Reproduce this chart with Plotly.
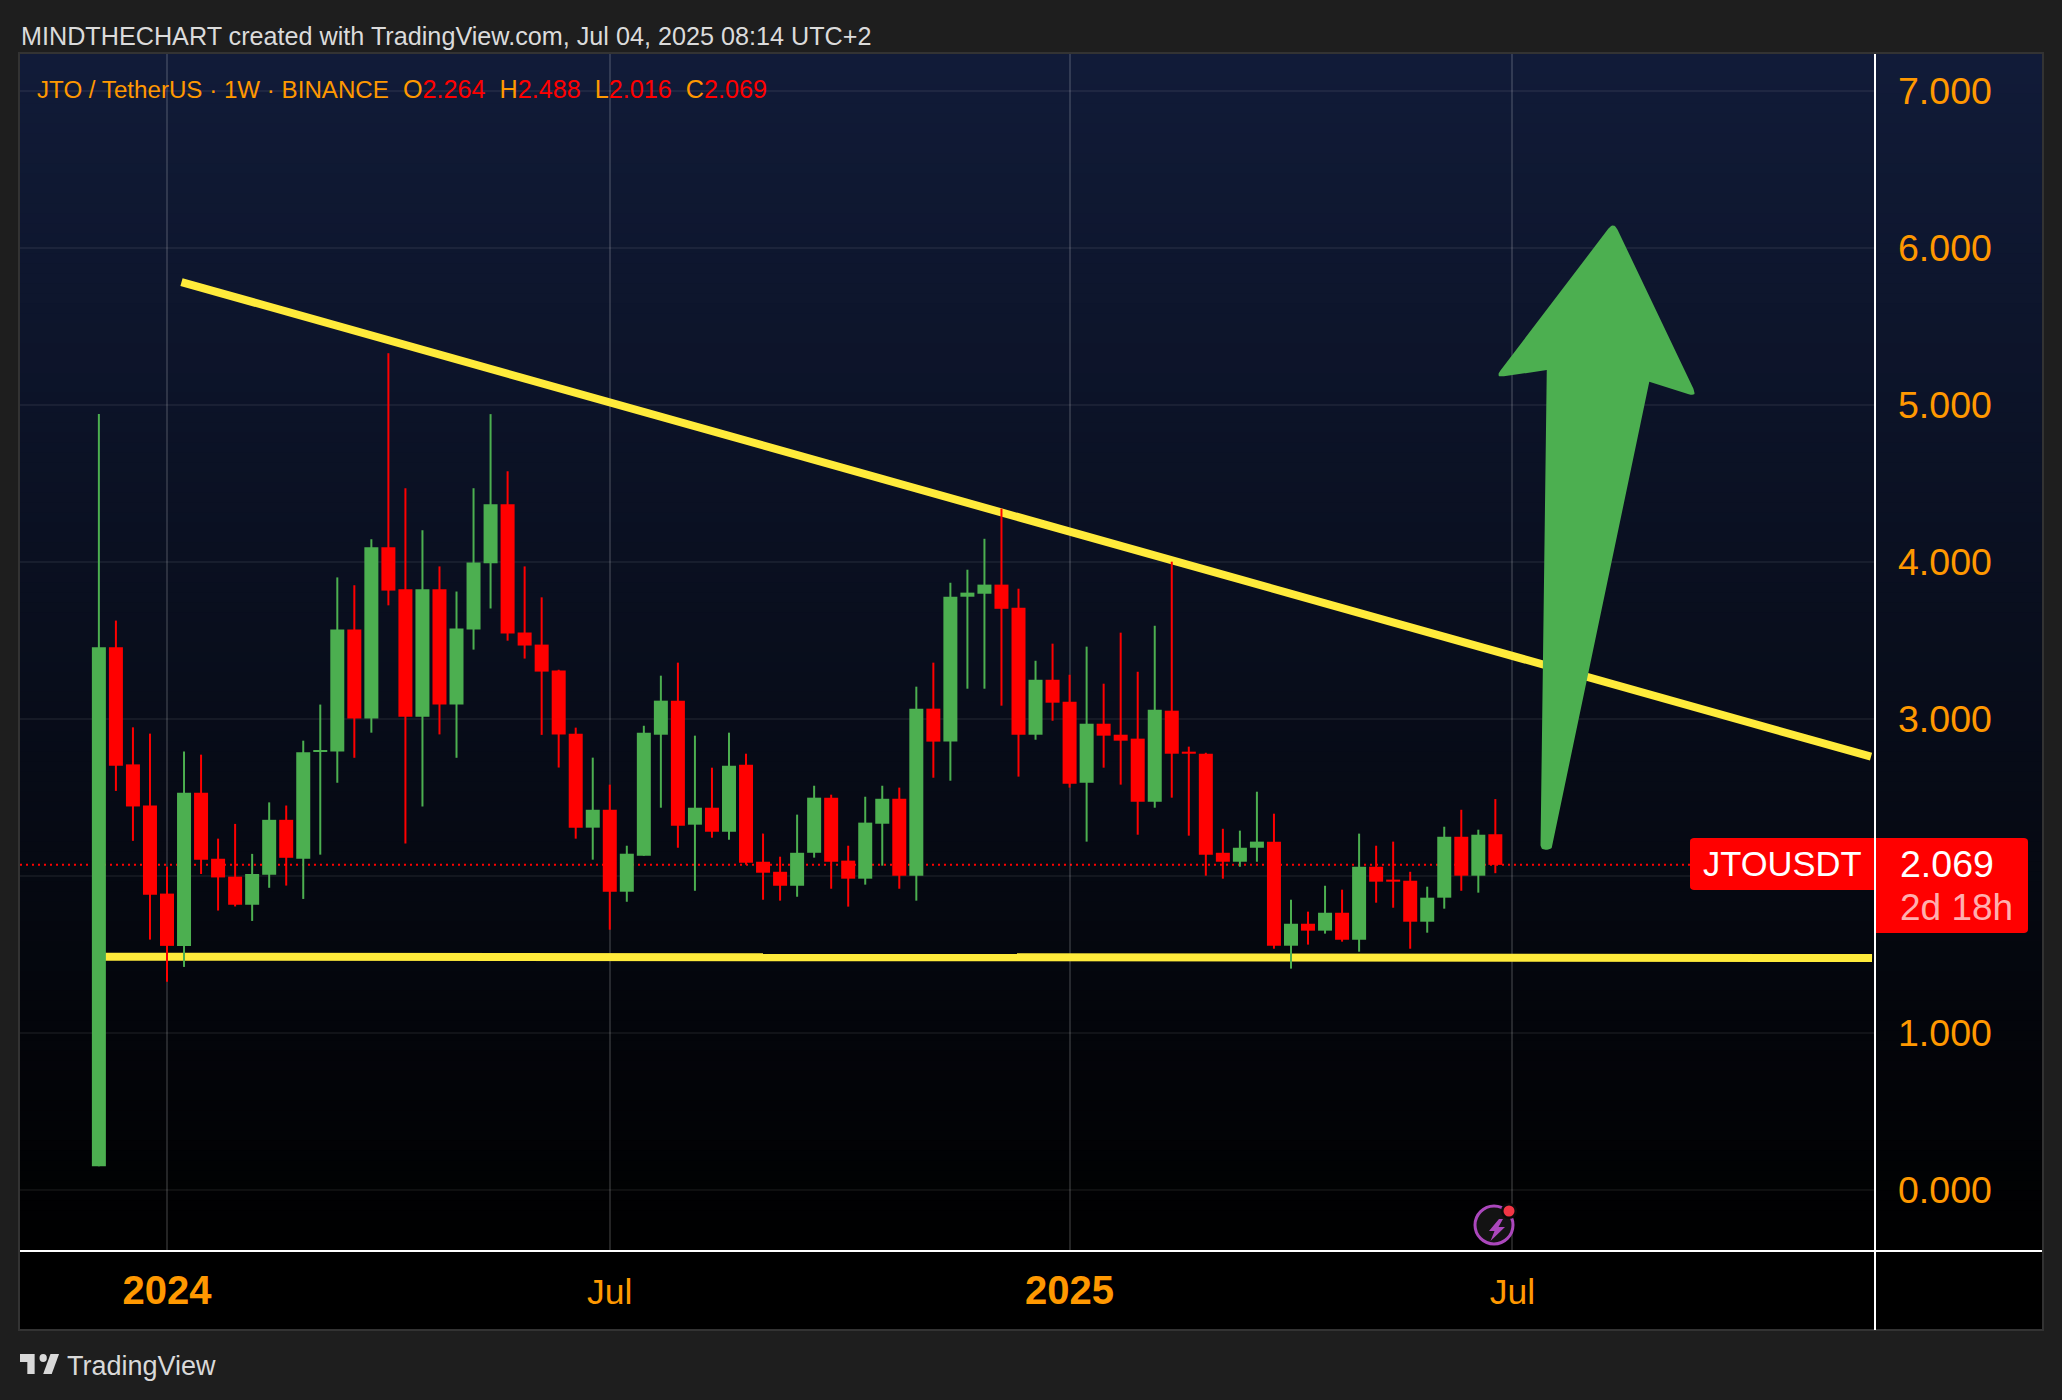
import pandas as pd
import plotly.graph_objects as go

# ---------- data ----------
START = "2023-12-04"
opens = [0.15,3.455,2.709,2.447,1.886,1.553,2.529,2.108,1.994,1.815,2.006,2.356,2.108,2.79,2.791,3.568,3.002,4.092,3.825,3.013,
         3.825,3.09,3.568,3.99,4.366,3.549,3.472,3.307,2.904,2.306,2.42,1.898,2.127,2.898,3.115,2.325,2.433,2.28,2.707,2.089,
         2.025,1.936,2.146,2.497,2.096,1.981,2.331,2.49,2.0,3.064,2.854,3.777,3.796,3.854,3.707,2.898,3.248,3.108,2.592,2.968,
         2.898,2.873,2.471,3.051,2.79,2.777,2.146,2.089,2.178,2.217,1.554,1.694,1.65,1.764,1.592,2.057,1.975,1.968,1.707,1.86,
         2.248,2.0,2.264]
highs = [4.94,3.625,2.945,2.905,2.057,2.791,2.771,2.236,2.33,2.139,2.467,2.447,2.86,3.09,3.90,3.85,4.143,5.328,4.468,4.20,
         3.97,3.81,4.468,4.94,4.576,3.97,3.773,3.312,2.943,2.752,2.58,2.191,2.955,3.274,3.357,2.892,2.688,2.911,2.777,2.268,
         2.121,2.389,2.573,2.516,2.191,2.503,2.573,2.561,3.204,3.357,3.866,3.949,4.146,4.338,3.828,3.369,3.478,3.28,3.459,3.223,
         3.548,3.299,3.592,4.0,2.822,2.783,2.299,2.287,2.535,2.395,1.847,1.771,1.936,1.911,2.268,2.191,2.217,2.025,1.93,2.312,
         2.42,2.293,2.488]
lows = [0.15,2.54,2.222,1.593,1.325,1.419,2.011,1.778,1.804,1.712,1.923,1.937,1.852,2.134,2.592,2.751,2.911,3.722,2.205,2.441,
        2.90,2.751,3.44,3.702,3.497,3.383,2.897,2.689,2.236,2.102,1.656,1.834,2.127,2.433,2.178,1.904,2.242,2.229,2.07,1.847,
        1.841,1.866,2.115,1.917,1.803,1.943,2.064,1.917,1.841,2.624,2.605,3.191,3.191,3.083,2.631,2.866,2.987,2.561,2.217,2.688,
        2.58,2.261,2.433,2.497,2.255,2.0,1.981,2.057,2.089,1.535,1.408,1.561,1.631,1.58,1.516,1.828,1.796,1.535,1.637,1.79,
        1.904,1.892,2.016]
closes = [3.455,2.70,2.441,1.878,1.553,2.529,2.102,1.989,1.815,2.011,2.356,2.114,2.786,2.80,3.568,3.002,4.092,3.816,3.013,3.825,
          3.09,3.574,3.995,4.366,3.543,3.466,3.30,2.90,2.306,2.42,1.898,2.14,2.911,3.115,2.318,2.433,2.28,2.70,2.083,2.019,
          1.936,2.146,2.497,2.089,1.981,2.338,2.49,2.0,3.064,2.854,3.777,3.803,3.854,3.70,2.898,3.248,3.102,2.586,2.968,2.892,
          2.86,2.471,3.057,2.777,2.777,2.134,2.089,2.178,2.217,1.554,1.694,1.65,1.764,1.592,2.057,1.962,1.962,1.707,1.86,2.248,
          2.0,2.261,2.069]
price_ticks = [0, 1, 2, 3, 4, 5, 6, 7]
price_tick_text = ["0.000", "1.000", "", "3.000", "4.000", "5.000", "6.000", "7.000"]
time_tick_bars = [4, 30, 57, 83]
time_tick_text = ["<b><span style='font-size:40px'>2024</span></b>", "Jul",
                  "<b><span style='font-size:40px'>2025</span></b>", "Jul"]
last_price = 2.069
# drawings, as (bar number, price)
resist_bars, resist_prices = [4.85, 104.06], [5.781, 2.758]
support_bars, support_prices = [0.36, 104.12], [1.484, 1.476]
arrow_bars = [84.65, 85.02, 81.98, 88.95, 93.86, 91.04, 85.33]
arrow_prices = [2.166, 5.221, 5.172, 6.166, 5.05, 5.146, 2.166]
arrow_round = [5, 0, 9, 9, 9, 0, 5]

# ---------- frame geometry ----------
W, H = 2062, 1400
L, R, T, B = 20, 1875, 54, 1250
FR, FB = 2042, 1330
BAR_PX, PRICE_PX = 17.03, 157.0
ZERO_PX = 1189.7
ORANGE, RED, GREEN, YELLOW = "#ff9800", "#ff0000", "#4caf50", "#ffeb3b"
FONT = "Liberation Sans"
WEEK_MS = 7 * 86400000

t0 = pd.Timestamp(START)
def bar_date(b):
    return t0 + pd.Timedelta(days=7 * b)
dates = [bar_date(i) for i in range(len(opens))]
def X(p): return (p - L) / (R - L)
def Y(p): return (B - p) / (B - T)

# arrow with rounded corners
def rounded(bars, prices, radii):
    pts = [(b * BAR_PX, -p * PRICE_PX) for b, p in zip(bars, prices)]
    out, n = [], len(pts)
    for i, (x, y) in enumerate(pts):
        r = radii[i]
        if r == 0:
            out.append((x, y)); continue
        ax, ay = pts[i - 1]; cx, cy = pts[(i + 1) % n]
        la = ((ax - x) ** 2 + (ay - y) ** 2) ** .5; lc = ((cx - x) ** 2 + (cy - y) ** 2) ** .5
        s = (x + (ax - x) * r / la, y + (ay - y) * r / la)
        e = (x + (cx - x) * r / lc, y + (cy - y) * r / lc)
        for k in range(9):
            u = k / 8
            out.append(((1-u)**2*s[0] + 2*u*(1-u)*x + u*u*e[0], (1-u)**2*s[1] + 2*u*(1-u)*y + u*u*e[1]))
    return [bar_date(a / BAR_PX) for a, _ in out], [-b / PRICE_PX for _, b in out]

shapes = []
def rect(x0, y0, x1, y1, fill, layer="below"):
    shapes.append(dict(type="rect", xref="paper", yref="paper", x0=X(x0), x1=X(x1), y0=Y(y0), y1=Y(y1),
                       fillcolor=fill, line=dict(width=0), layer=layer))
def hline(x0, y0, x1, y1, color, w, layer="above"):
    shapes.append(dict(type="line", xref="paper", yref="paper", x0=X(x0), x1=X(x1), y0=Y(y0), y1=Y(y1),
                       line=dict(color=color, width=w), layer=layer))
def path(pts, fill, layer="above"):
    d = "M" + " L".join(f"{X(a):.5f},{Y(b):.5f}" for a, b in pts) + " Z"
    shapes.append(dict(type="path", xref="paper", yref="paper", path=d, fillcolor=fill, line=dict(width=0), layer=layer))
def circle(cx, cy, rx, ry, fill, line=None, lw=0, layer="above"):
    shapes.append(dict(type="circle", xref="paper", yref="paper", x0=X(cx-rx), x1=X(cx+rx), y0=Y(cy+ry), y1=Y(cy-ry),
                       fillcolor=fill, line=dict(color=line or fill, width=lw), layer=layer))

# panel background: vertical gradient down to black
TOP = (17, 27, 56)
N = 120
rect(L, B, FR, FB, "#000000")
for i in range(N):
    u = i / N
    c = tuple(round(v * (1 - u)) for v in TOP)
    y0 = T + (B - T) * i / N
    rect(L, y0, FR, B if i == N - 1 else y0 + (B - T) / N + 1, f"rgb{c}")
# frame + white axis lines
shapes.append(dict(type="rect", xref="paper", yref="paper", x0=X(L-1), x1=X(FR+1), y0=Y(FB), y1=Y(T-1),
                   line=dict(color="#333333", width=2), fillcolor="rgba(0,0,0,0)", layer="below"))
hline(L, B + 1, FR, B + 1, "#ffffff", 2)
hline(R, T, R, FB, "#ffffff", 2)
# last price line, under the candles
shapes.append(dict(type="line", xref="paper", yref="y", x0=0, x1=1, y0=last_price, y1=last_price,
                   line=dict(color=RED, width=2, dash="2px,4px"), layer="between"))
# price tags
def round_rect(x0, y0, x1, y1, r, tl, tr, br, bl):
    pts = []
    def corner(cx, cy, ax, ay, bx, by, on):
        if not on: pts.append((cx, cy)); return
        for k in range(6):
            u = k / 5
            pts.append(((1-u)**2*ax + 2*u*(1-u)*cx + u*u*bx, (1-u)**2*ay + 2*u*(1-u)*cy + u*u*by))
    corner(x0, y0, x0, y0+r, x0+r, y0, tl)
    corner(x1, y0, x1-r, y0, x1, y0+r, tr)
    corner(x1, y1, x1, y1-r, x1-r, y1, br)
    corner(x0, y1, x0+r, y1, x0, y1-r, bl)
    return pts
path(round_rect(1690, 838, 1874, 890, 4, True, False, False, True), RED)
path(round_rect(1876, 838, 2028, 933, 4, False, True, True, False), RED)
# lightning icon
circle(1494, 1225, 19, 19, "#131313", "#ab47bc", 3)
path([(1499, 1219), (1489, 1231), (1494.5, 1231), (1490.5, 1241), (1505, 1227), (1498.5, 1227), (1503, 1219)], "#ab47bc")
circle(1509, 1211, 8, 8, "#0a0a0a")
circle(1509, 1211, 5.5, 5.5, "#f23645")
# footer logo
lx = lambda v: 20 + (v - 2) * 1.22
ly = lambda v: 1354 + (v - 6) * 1.33
path([(lx(a), ly(b)) for a, b in [(2, 6), (14, 6), (14, 21), (8, 21), (8, 12), (2, 12)]], "#d9d9d9", "above")
path([(lx(a), ly(b)) for a, b in [(27, 6), (34, 6), (28, 21), (21, 21)]], "#d9d9d9", "above")
circle(lx(21), ly(9), 3 * 1.22, 3 * 1.33, "#d9d9d9")

def note(x, y, text, size, color, anchor="left", **kw):
    return dict(xref="paper", yref="paper", x=X(x), y=Y(y), text=text, showarrow=False, xanchor=anchor, yanchor="middle",
                font=dict(family=FONT, size=size, color=color), borderpad=0, **kw)

def red(s): return f"<span style='color:{RED}'>{s}</span>"
SP = "\u00a0\u00a0"
legend = ("<span style='font-size:24.15px'>JTO / TetherUS · 1W · BINANCE</span>" + SP + "O" + red("2.264") + SP + "H" + red("2.488")
          + SP + "L" + red("2.016") + SP + "C" + red("2.069"))
annotations = [
    note(20, 35.5, "MINDTHECHART created with TradingView.com, Jul 04, 2025 08:14 UTC+2", 25.2, "#dbdbdb"),
    note(36, 89, legend, 25.2, ORANGE),
    note(66, 1366, "TradingView", 27, "#d9d9d9"),
    note(1702, 864, "JTOUSDT", 34.5, "#ffffff"),
    note(1899, 864, "2.069", 37.5, "#ffffff"),
    note(1899, 907, "2d 18h", 37, "rgba(255,255,255,0.7)"),
]

colors = [GREEN if c >= o else RED for o, c in zip(opens, closes)]
fig = go.Figure()
# the two trendlines sit under the candles
for bars, prices in ((resist_bars, resist_prices), (support_bars, support_prices)):
    fig.add_trace(go.Scatter(x=[bar_date(b) for b in bars], y=prices, mode="lines", zorder=0,
                             line=dict(color=YELLOW, width=8), hoverinfo="skip", showlegend=False))
# wicks
fig.add_trace(go.Bar(x=dates, base=lows, y=[h - l for h, l in zip(highs, lows)], width=WEEK_MS * 2 / BAR_PX, zorder=1,
                     marker=dict(color=colors, line=dict(width=0)), hoverinfo="skip", showlegend=False))
# bodies
fig.add_trace(go.Bar(x=dates, base=[min(o, c) for o, c in zip(opens, closes)],
                     y=[abs(o - c) for o, c in zip(opens, closes)], width=WEEK_MS * 14 / BAR_PX, zorder=1,
                     marker=dict(color=colors, line=dict(width=0)), showlegend=False,
                     customdata=list(zip(opens, highs, lows, closes)),
                     hovertemplate="O %{customdata[0]:.3f} H %{customdata[1]:.3f} L %{customdata[2]:.3f} C %{customdata[3]:.3f}<extra></extra>"))
ax, ay = rounded(arrow_bars, arrow_prices, arrow_round)
fig.add_trace(go.Scatter(x=ax, y=ay, mode="lines", fill="toself", fillcolor=GREEN, line=dict(width=0, color=GREEN), zorder=2,
                         hoverinfo="skip", showlegend=False))

left_bar = 4 + (L - 167) / BAR_PX
right_bar = 4 + (R - 167) / BAR_PX
fig.update_layout(
    width=W, height=H, autosize=False,
    margin=dict(l=L, r=W - R, t=T, b=H - B, pad=0, autoexpand=False),
    paper_bgcolor="#1e1e1e", plot_bgcolor="rgba(0,0,0,0)",
    barmode="overlay", showlegend=False, shapes=shapes, annotations=annotations,
    font=dict(family=FONT),
    xaxis=dict(type="date", range=[bar_date(left_bar), bar_date(right_bar)], rangeslider=dict(visible=False),
               tickmode="array", tickvals=[bar_date(b) for b in time_tick_bars], ticktext=time_tick_text,
               tickfont=dict(family=FONT, size=35.5, color=ORANGE), showgrid=True,
               gridcolor="rgba(255,255,255,0.14)", gridwidth=2, zeroline=False, showline=False,
               ticks="", ticklabelstandoff=17),
    yaxis=dict(side="right", range=[(ZERO_PX - B) / PRICE_PX, (ZERO_PX - T) / PRICE_PX], tickmode="array",
               tickvals=price_ticks, ticktext=price_tick_text, tickfont=dict(family=FONT, size=37.5, color=ORANGE),
               showgrid=True, gridcolor="rgba(255,255,255,0.06)", gridwidth=2, zeroline=False, showline=False,
               ticks="", ticklabelstandoff=22),
)
fig.write_html("out.html", config=dict(displayModeBar=False),
               post_script="document.body.style.margin='0';document.body.style.overflow='hidden';document.body.style.background='#1e1e1e';")
